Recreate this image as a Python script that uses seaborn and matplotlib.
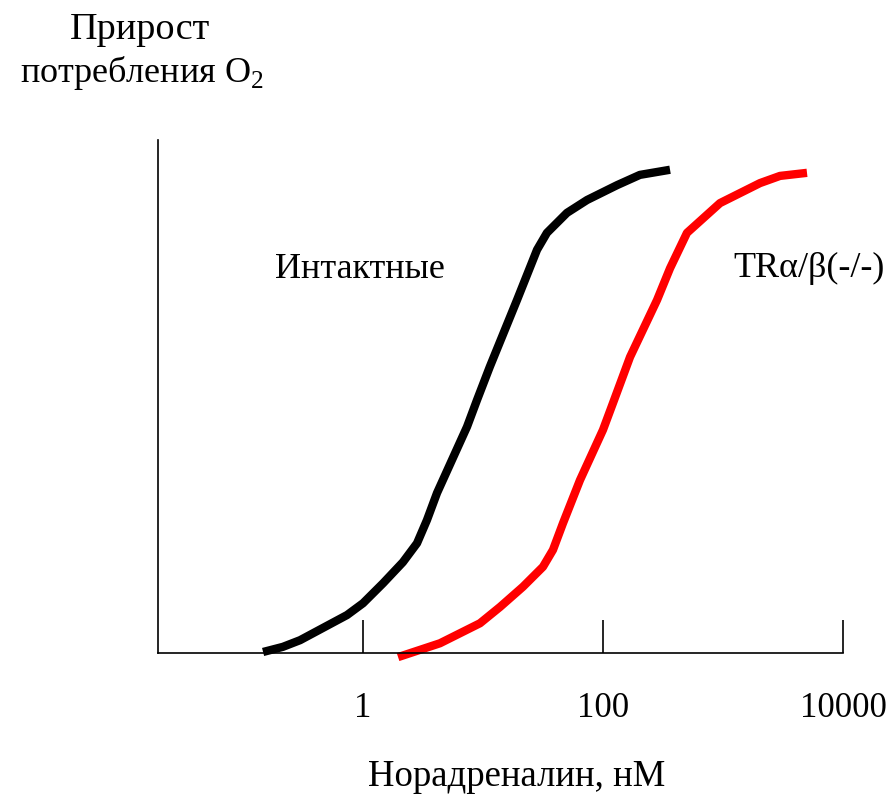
import numpy as np
import pandas as pd
import matplotlib
matplotlib.use("Agg")
import matplotlib.pyplot as plt
import seaborn as sns

# Dose-response of O2 consumption increment vs noradrenaline concentration (nM)
intact_conc = [0.147, 0.215, 0.299, 0.736, 1.0, 1.47, 2.15, 2.82, 3.41, 4.14,
               7.36, 8.91, 11.4, 19.2, 28.2, 34.1, 50.1, 73.6, 131, 203, 362]
intact_resp = [0.2, 1.2, 2.5, 7.4, 9.7, 13.6, 17.7, 21.4, 25.9, 31.2,
               44.1, 49.3, 55.8, 68.8, 78.6, 81.9, 85.8, 88.3, 91.2, 93.2, 94.2]

ko_conc = [1.96, 4.38, 9.44, 13.9, 21.5, 31.6, 38.3, 46.4, 64.3, 100, 121,
           168, 282, 362, 501, 944, 2034, 2985, 5012]
ko_resp = [-0.8, 1.9, 5.8, 9.0, 12.9, 16.8, 20.1, 25.3, 33.7, 43.5, 48.7,
           57.7, 68.8, 75.0, 81.9, 87.7, 91.6, 93.0, 93.6]

tick_values = [1, 100, 10000]
tick_labels = ["1", "100", "10000"]

df = pd.concat([
    pd.DataFrame({"conc": intact_conc, "resp": intact_resp, "group": "Интактные"}),
    pd.DataFrame({"conc": ko_conc, "resp": ko_resp, "group": "TRα/β(-/-)"}),
])

sns.set_style("white")
plt.rcParams["font.family"] = ["Liberation Serif", "DejaVu Serif"]
plt.rcParams["mathtext.fontset"] = "custom"
plt.rcParams["mathtext.rm"] = "Liberation Serif"
plt.rcParams["text.color"] = "black"
plt.rcParams["xtick.color"] = "black"
plt.rcParams["xtick.labelcolor"] = "black"

fig = plt.figure(figsize=(8.93, 8.02), dpi=100)
ax = fig.add_axes([158 / 893, 149 / 802, 685 / 893, 513 / 802])

sns.lineplot(data=df, x="conc", y="resp", hue="group",
             palette={"Интактные": "black", "TRα/β(-/-)": "#ff0000"},
             estimator=None, sort=True, linewidth=6, legend=False, ax=ax)
for line in ax.get_lines():
    line.set_solid_capstyle("butt")
    line.set_solid_joinstyle("round")
    line.set_antialiased(True)
    line.set_clip_on(False)

ax.set_xscale("log")
ax.set_xlim(10 ** ((158 - 363) / 120), 10000)
ax.set_ylim(0, 100)

for side in ("top", "right"):
    ax.spines[side].set_visible(False)
for side in ("left", "bottom"):
    ax.spines[side].set_linewidth(1.2)
    ax.spines[side].set_color("black")

ax.set_xticks(tick_values)
ax.set_xticklabels(tick_labels)
ax.xaxis.set_minor_locator(matplotlib.ticker.NullLocator())
ax.tick_params(axis="x", direction="in", length=24, width=1.2, color="black",
               labelcolor="black", pad=28, labelsize=25, bottom=True)
ax.set_yticks([])
ax.set_xlabel("")
ax.set_ylabel("")

ax.text(0.185, 74.7, "Интактные", fontsize=26, va="center", ha="left", color="black")
ax.text(1211, 75, "TRα/β(-/-)", fontsize=26, va="center", ha="left", color="black")

fig.text(140 / 893, 1 - 30 / 802, "Прирост", fontsize=27.5, ha="center",
         va="center", color="black")
fig.text(142 / 893, 1 - 73 / 802, "потребления O$_{\\mathrm{2}}$", fontsize=26,
         ha="center", va="center", color="black")
fig.text(517 / 893, 1 - 777 / 802, "Норадреналин, нМ", fontsize=26.5,
         ha="center", va="center", color="black")

fig.savefig("out.png", dpi=100)
